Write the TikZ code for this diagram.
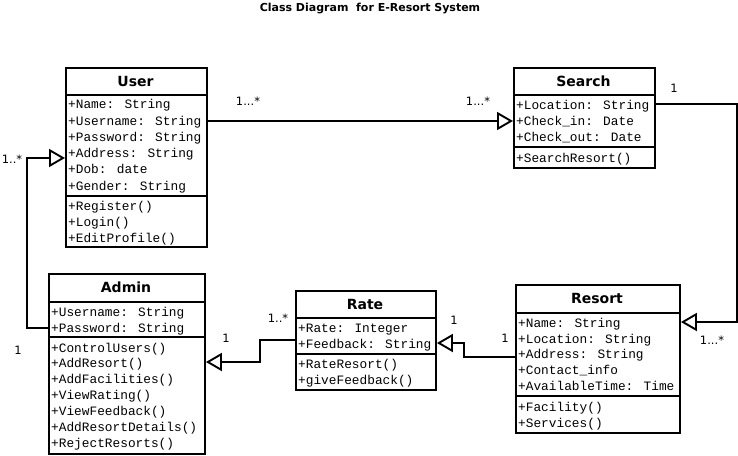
\documentclass[tikz,border=0pt]{standalone}
\usepackage{fontspec}
\setmainfont{DejaVu Sans}
\newfontfamily\monof{Liberation Mono}
\usetikzlibrary{arrows.meta,calc}
\tikzset{
 cls/.style={draw, line width=1.9pt, inner sep=0pt, anchor=north west},
 ttl/.style={font=\bfseries\fontsize{14}{16}\selectfont, inner sep=0pt},
 mem/.style={anchor=base west, inner sep=0pt, font=\monof\fontsize{12.8}{15}\selectfont},
 lbl/.style={font=\fontsize{11.5}{13}\selectfont, inner sep=0pt},
 divl/.style={line width=1.9pt},
 gen/.style={line width=1.9pt, -{Triangle[open,length=16pt,width=18pt]}},
}
\begin{document}
\begin{tikzpicture}[x=1pt,y=-1pt]
\useasboundingbox (0,0) rectangle (738,455);
\node[font=\bfseries\fontsize{11}{13}\selectfont, inner sep=0pt] (title) at (370,9) {Class Diagram\ \ for E-Resort System};

% User
\node[cls, minimum width=141pt, minimum height=179pt] (user) at (65,67) {};
\draw[divl] ($(user.north west)+(0,28)$) -- ($(user.north east)+(0,28)$);
\draw[divl] ($(user.north west)+(0,129)$) -- ($(user.north east)+(0,129)$);
\node[ttl] (usert) at (135.5,81) {User};
\node[mem] (u1) at (68,108) {+Name: String};
\node[mem] (u2) at (68,125) {+Username: String};
\node[mem] (u3) at (68,141) {+Password: String};
\node[mem] (u4) at (68,157) {+Address: String};
\node[mem] (u5) at (68,173) {+Dob: date};
\node[mem] (u6) at (68,190) {+Gender: String};
\node[mem] (u7) at (68,210) {+Register()};
\node[mem] (u8) at (68,226) {+Login()};
\node[mem] (u9) at (68,242) {+EditProfile()};

% Search
\node[cls, minimum width=141pt, minimum height=100pt] (search) at (513,67) {};
\draw[divl] ($(search.north west)+(0,28)$) -- ($(search.north east)+(0,28)$);
\draw[divl] ($(search.north west)+(0,80)$) -- ($(search.north east)+(0,80)$);
\node[ttl] (searcht) at (583.5,81) {Search};
\node[mem] (s1) at (516,109) {+Location: String};
\node[mem] (s2) at (516,125) {+Check\_in: Date};
\node[mem] (s3) at (516,141) {+Check\_out: Date};
\node[mem] (s4) at (516,162) {+SearchResort()};

% Admin
\node[cls, minimum width=156pt, minimum height=180pt] (admin) at (48,273) {};
\draw[divl] ($(admin.north west)+(0,29)$) -- ($(admin.north east)+(0,29)$);
\draw[divl] ($(admin.north west)+(0,64)$) -- ($(admin.north east)+(0,64)$);
\node[ttl] (admint) at (126,287) {Admin};
\node[mem] (a1) at (51,316) {+Username: String};
\node[mem] (a2) at (51,332) {+Password: String};
\node[mem] (a3) at (51,352) {+ControlUsers()};
\node[mem] (a4) at (51,367) {+AddResort()};
\node[mem] (a5) at (51,383) {+AddFacilities()};
\node[mem] (a6) at (51,399) {+ViewRating()};
\node[mem] (a7) at (51,415) {+ViewFeedback()};
\node[mem] (a8) at (51,431) {+AddResortDetails()};
\node[mem] (a9) at (51,447) {+RejectResorts()};

% Rate
\node[cls, minimum width=140pt, minimum height=99pt] (rate) at (295,290) {};
\draw[divl] ($(rate.north west)+(0,28)$) -- ($(rate.north east)+(0,28)$);
\draw[divl] ($(rate.north west)+(0,64)$) -- ($(rate.north east)+(0,64)$);
\node[ttl] (ratet) at (365,304) {Rate};
\node[mem] (r1) at (298,332) {+Rate: Integer};
\node[mem] (r2) at (298,348) {+Feedback: String};
\node[mem] (r3) at (298,368) {+RateResort()};
\node[mem] (r4) at (298,384) {+giveFeedback()};

% Resort
\node[cls, minimum width=164pt, minimum height=148pt] (resort) at (515,284) {};
\draw[divl] ($(resort.north west)+(0,29)$) -- ($(resort.north east)+(0,29)$);
\draw[divl] ($(resort.north west)+(0,112)$) -- ($(resort.north east)+(0,112)$);
\node[ttl] (resortt) at (597,298) {Resort};
\node[mem] (e1) at (518,327) {+Name: String};
\node[mem] (e2) at (518,343) {+Location: String};
\node[mem] (e3) at (518,358) {+Address: String};
\node[mem] (e4) at (518,374) {+Contact\_info};
\node[mem] (e5) at (518,390) {+AvailableTime: Time};
\node[mem] (e6) at (518,411) {+Facility()};
\node[mem] (e7) at (518,427) {+Services()};

% Connectors
\draw[gen] ($(user.north east)+(0,54)$) -- ($(search.north west)+(0,54)$);
\draw[gen] ($(search.north east)+(0,37)$) -- ++(81,0) |- ($(resort.north east)+(0,38)$);
\draw[gen] ($(admin.north west)+(0,55)$) -- ++(-21,0) |- ($(user.north west)+(0,91)$);
\draw[gen] ($(rate.north west)+(0,50)$) -- ++(-35,0) |- ($(admin.north east)+(0,89)$);
\draw[gen] ($(resort.north west)+(0,73)$) -- ++(-51,0) |- ($(rate.north east)+(0,53)$);

% Multiplicities
\node[lbl] (m1) at (248,101) {1...*};
\node[lbl] (m2) at (478,101) {1...*};
\node[lbl] (m3) at (674,88) {1};
\node[lbl] (m4) at (712,340) {1...*};
\node[lbl] (m5) at (12,159) {1..*};
\node[lbl] (m6) at (18,350) {1};
\node[lbl] (m7) at (278,318) {1..*};
\node[lbl] (m8) at (226,338) {1};
\node[lbl] (m9) at (454,320) {1};
\node[lbl] (m10) at (505,338) {1};
\end{tikzpicture}
\end{document}
